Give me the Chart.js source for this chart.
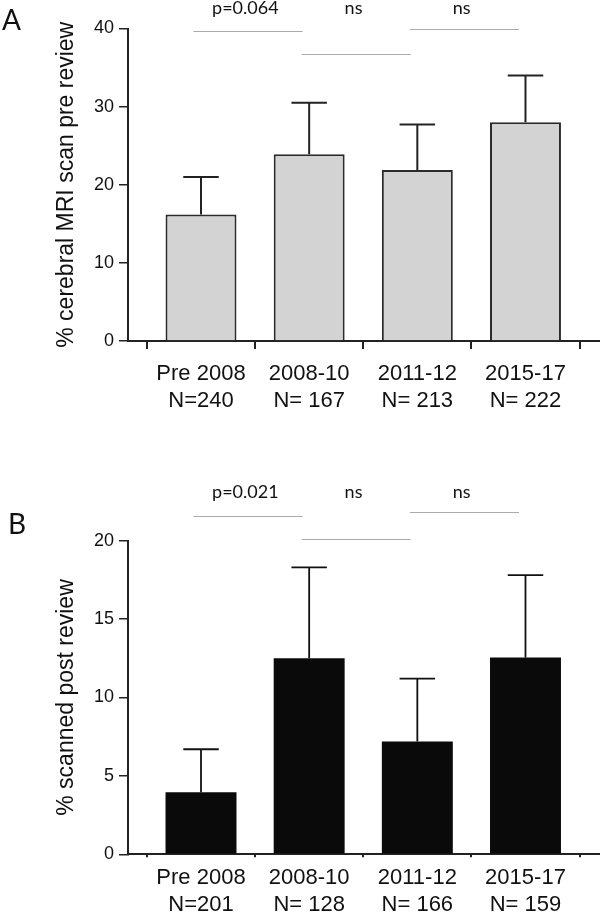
<!DOCTYPE html>
<html>
<head>
<meta charset="utf-8">
<script src="https://cdn.jsdelivr.net/npm/chart.js@4.4.1/dist/chart.umd.min.js"></script>
<style>
  html, body { margin: 0; padding: 0; background: #fff; }
  canvas { display: block; }
</style>
</head>
<body>
<canvas id="chartA" width="600" height="440"></canvas>
<canvas id="chartB" width="600" height="472"></canvas>
<script>
const periods = ["Pre 2008", "2008-10", "2011-12", "2015-17"]

// panel A: scanned before review
const countsA = ["N=240", "N= 167", "N= 213", "N= 222"]
const meanA = [16.2, 23.9, 21.9, 28.0]
const upperA = [21.0, 30.5, 27.7, 34.0]
const yTicksA = [0, 10, 20, 30, 40]
const sigTextA = ["p=0.064", "ns", "ns"]
const sigLineA = [39.7, 36.7, 40.0]
const sigTextLevelA = 41.8

// panel B: scanned after review
const countsB = ["N=201", "N= 128", "N= 166", "N= 159"]
const meanB = [3.95, 12.5, 7.2, 12.55]
const upperB = [6.7, 18.3, 11.2, 17.8]
const yTicksB = [0, 5, 10, 15, 20]
const sigTextB = ["p=0.021", "ns", "ns"]
const sigLineB = [21.6, 20.1, 21.8]
const sigTextLevelB = 22.7

const panelMarks = {
  id: "panelMarks",
  afterDatasetsDraw(chart, args, opts){
    const ctx = chart.ctx
    const xs = chart.scales.x
    const ys = chart.scales.y
    const meta = chart.getDatasetMeta(0)

    ctx.save()

    // error bars (upper only)
    ctx.strokeStyle = opts.errColor
    ctx.lineWidth = opts.errWidth
    opts.upper.forEach((v, i) => {
      const bar = meta.data[i]
      const half = bar.width / 4
      const top = ys.getPixelForValue(v)
      ctx.beginPath()
      ctx.moveTo(bar.x, bar.y)
      ctx.lineTo(bar.x, top)
      ctx.moveTo(bar.x - half, top)
      ctx.lineTo(bar.x + half, top)
      ctx.stroke()
    })

    // comparison lines and labels
    ctx.strokeStyle = "#ababab"
    ctx.lineWidth = 1.2
    ctx.fillStyle = "#111"
    ctx.font = "18px Lato"
    ctx.textAlign = "center"
    ctx.textBaseline = "alphabetic"
    opts.sigLine.forEach((v, i) => {
      const x0 = xs.getPixelForValue(i - 0.07)
      const x1 = xs.getPixelForValue(i + 0.94)
      const py = Math.round(ys.getPixelForValue(v)) + 0.5
      ctx.beginPath()
      ctx.moveTo(x0, py)
      ctx.lineTo(x1, py)
      ctx.stroke()
      ctx.fillText(opts.sigText[i], xs.getPixelForValue(i + 0.41), ys.getPixelForValue(opts.sigTextLevel))
    })

    ctx.font = "28px Lato"
    ctx.textAlign = "left"
    ctx.fillText(opts.letter, opts.letterX, opts.letterY)

    ctx.restore()
  }
}

function makePanel(id, cfg){
  return new Chart(document.getElementById(id), {
    type: "bar",
    data: {
      datasets: [{
        data: cfg.means.map((v, i) => ({x: i, y: v})),
        backgroundColor: cfg.fill,
        borderColor: cfg.edge,
        borderWidth: cfg.edgeWidth,
        barPercentage: 0.656,
        categoryPercentage: 1
      }]
    },
    options: {
      responsive: false,
      animation: false,
      layout: {padding: {top: cfg.top, right: 1.5, left: 0, bottom: 0}},
      plugins: {
        legend: {display: false},
        tooltip: {enabled: false},
        panelMarks: {
          upper: cfg.upper,
          errColor: cfg.errColor,
          errWidth: cfg.errWidth,
          sigLine: cfg.sigLine,
          sigText: cfg.sigText,
          sigTextLevel: cfg.sigTextLevel,
          letter: cfg.letter,
          letterX: cfg.letterX,
          letterY: cfg.letterY
        }
      },
      scales: {
        x: {
          type: "linear",
          offset: false,
          min: -0.675,
          max: 3.675,
          afterBuildTicks: s => { s.ticks = periods.map((p, i) => ({value: i})) },
          afterFit: s => { s.height = cfg.xHeight },
          grid: {drawOnChartArea: false, drawTicks: true, tickLength: cfg.xTick, color: "#222", lineWidth: 2},
          border: {color: "#222", width: 2},
          ticks: {
            padding: cfg.xPad,
            color: "#111",
            maxRotation: 0,
            autoSkip: false,
            font: {family: "Liberation Sans", size: 22, lineHeight: 1.23},
            callback: v => [periods[v], cfg.counts[v]]
          }
        },
        y: {
          min: 0,
          max: cfg.yTicks[cfg.yTicks.length - 1],
          afterBuildTicks: s => { s.ticks = cfg.yTicks.map(v => ({value: v})) },
          afterFit: s => { s.width = 128 },
          grid: {drawOnChartArea: false, drawTicks: true, tickLength: 9, color: "#222", lineWidth: 1.5},
          border: {color: "#222", width: 2},
          ticks: {padding: 5, color: "#111", font: {family: "Liberation Sans", size: 18}},
          title: {
            display: true,
            text: cfg.title,
            color: "#111",
            padding: {top: 53, bottom: 0},
            font: {family: "Liberation Sans", size: 23, lineHeight: 1.2}
          }
        }
      }
    },
    plugins: [panelMarks]
  })
}

makePanel("chartA", {
  means: meanA, upper: upperA, counts: countsA, yTicks: yTicksA,
  sigLine: sigLineA, sigText: sigTextA, sigTextLevel: sigTextLevelA,
  title: "% cerebral MRI scan pre review",
  fill: "#d3d3d3", edge: "#2b2b2b", edgeWidth: 2,
  errColor: "#222", errWidth: 2,
  top: 28.5, xHeight: 99, xTick: 8, xPad: 11.5,
  letter: "A", letterX: 2, letterY: 30
})

makePanel("chartB", {
  means: meanB, upper: upperB, counts: countsB, yTicks: yTicksB,
  sigLine: sigLineB, sigText: sigTextB, sigTextLevel: sigTextLevelB,
  title: "% scanned post review",
  fill: "#0a0a0a", edge: "#0a0a0a", edgeWidth: 0,
  errColor: "#111", errWidth: 1.8,
  top: 100.7, xHeight: 57.7, xTick: 3, xPad: 7,
  letter: "B", letterX: 8, letterY: 94
})
</script>
</body>
</html>
